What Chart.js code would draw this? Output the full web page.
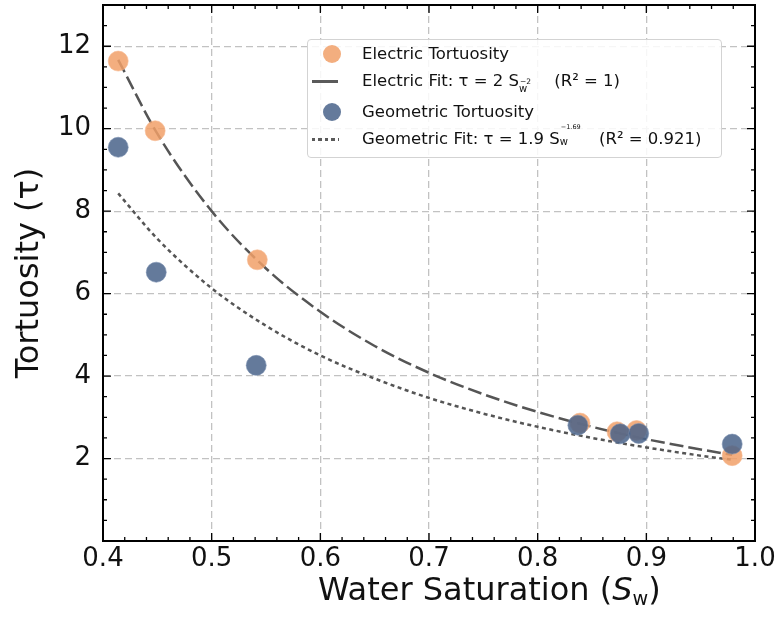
<!DOCTYPE html>
<html>
<head>
<meta charset="utf-8">
<script src="https://cdn.jsdelivr.net/npm/chart.js@4.4.1/dist/chart.umd.min.js"></script>
<style>
  body { margin: 0; background: #fff; font-family: 'DejaVu Sans', sans-serif; }
  #wrap { position: relative; width: 778px; height: 628px; }
  #legend {
    position: absolute; left: 307px; top: 39px; width: 413px; height: 117px;
    border: 1.5px solid #d3d3d3; border-radius: 4px; background: rgba(255,255,255,0.85);
    font-size: 16.5px; color: #111;
  }
  .row { position: absolute; left: 0; height: 24px; line-height: 24px; white-space: nowrap; }
  .row .lab { position: absolute; left: 54px; top: 0; }
  .dot { position: absolute; left: 15px; top: 3px; width: 18px; height: 18px; border-radius: 50%; }
  .hline { position: absolute; left: 4px; top: 10.5px; width: 26px; height: 3.5px; background: #5a5a5a; }
  .hdot { position: absolute; left: 4px; top: 10.5px; width: 27px; height: 3.5px;
    background: repeating-linear-gradient(90deg, #5a5a5a 0 3.5px, transparent 3.5px 6.5px); }
  .ss { display: inline-block; position: relative; height: 0; line-height: 1; }
  .ss span { position: absolute; left: 0; white-space: nowrap; }
  #xtitle { position: absolute; left: 318px; top: 570px; font-size: 32px; color: #111; white-space: nowrap; }
  #xtitle sub { font-size: 0.6em; vertical-align: -0.25em; }
</style>
</head>
<body>
<div id="wrap">
  <canvas id="chart" width="778" height="628"></canvas>
  <div id="legend">
    <div class="row" style="top:2px"><span class="dot" style="background:rgba(241,160,105,0.85)"></span><span class="lab">Electric Tortuosity</span></div>
    <div class="row" style="top:29px"><span class="hline"></span><span class="lab">Electric Fit: τ = 2 S<span class="ss" style="width:30px"><span style="font-size:7.5px;bottom:1px;left:1px">−2</span><span style="font-size:10px;bottom:-8px">w</span></span>&nbsp;(R² = 1)</span></div>
    <div class="row" style="top:60px"><span class="dot" style="background:rgba(73,99,138,0.85)"></span><span class="lab">Geometric Tortuosity</span></div>
    <div class="row" style="top:87px"><span class="hdot"></span><span class="lab">Geometric Fit: τ = 1.9 S<span class="ss" style="width:34px"><span style="font-size:6.5px;bottom:14px;left:1px">−1.69</span><span style="font-size:10px;bottom:-3px">w</span></span>&nbsp;(R² = 0.921)</span></div>
  </div>
  <div id="xtitle">Water Saturation (<i>S</i><sub>w</sub>)</div>
</div>
<script>
// measured points
const electricSw = [0.414, 0.448, 0.542, 0.839, 0.873, 0.891, 0.979];
const electricTau = [11.64, 9.95, 6.82, 2.86, 2.65, 2.68, 2.07];
const geometricSw = [0.414, 0.449, 0.541, 0.837, 0.876, 0.893, 0.979];
const geometricTau = [9.55, 6.52, 4.26, 2.81, 2.60, 2.61, 2.35];

// fit curves
const fitSw = [0.414, 0.45, 0.5, 0.55, 0.6, 0.65, 0.7, 0.75, 0.8, 0.85, 0.9, 0.95, 0.979];
const electricFitTau = [11.67, 9.88, 8.0, 6.61, 5.56, 4.73, 4.08, 3.56, 3.13, 2.77, 2.47, 2.22, 2.09];
const geometricFitTau = [8.43, 7.33, 6.13, 5.22, 4.50, 3.94, 3.47, 3.09, 2.77, 2.50, 2.27, 2.07, 1.97];

const xTicks = [0.4, 0.5, 0.6, 0.7, 0.8, 0.9, 1.0];
const yTicks = [2, 4, 6, 8, 10, 12];

const pts = (xs, ys) => xs.map((x, i) => ({ x, y: ys[i] }));

// no automatic label padding, the plot box is fixed by layout.padding
const noScalePadding = {
    id: 'noScalePadding',
    beforeLayout(chart) {
        Object.values(chart.scales).forEach(s => {
            s.getPadding = () => ({ left: 0, top: 0, right: 0, bottom: 0 });
        });
    },
};

// box frame + inward ticks on all four sides
const frameTicks = {
    id: 'frameTicks',
    afterDraw(chart) {
        const { ctx, chartArea: a, scales: { x, y } } = chart;
        ctx.save();
        ctx.strokeStyle = '#000';
        ctx.lineWidth = 1.3;
        const tick = (v, len, axis) => {
            ctx.beginPath();
            if (axis === 'x') {
                const p = x.getPixelForValue(v);
                ctx.moveTo(p, a.bottom); ctx.lineTo(p, a.bottom - len);
                ctx.moveTo(p, a.top); ctx.lineTo(p, a.top + len);
            } else {
                const p = y.getPixelForValue(v);
                ctx.moveTo(a.left, p); ctx.lineTo(a.left + len, p);
                ctx.moveTo(a.right, p); ctx.lineTo(a.right - len, p);
            }
            ctx.stroke();
        };
        for (let i = 0; i <= 30; i++) tick(0.4 + i * 0.02, i % 5 === 0 ? 8 : 4, 'x');
        for (let i = 0; i <= 26; i++) tick(i * 0.5, i % 4 === 0 ? 8 : 4, 'y');
        ctx.lineWidth = 2;
        ctx.strokeRect(a.left, a.top, a.right - a.left, a.bottom - a.top);
        ctx.restore();
    },
};

new Chart(document.getElementById('chart'), {
    type: 'scatter',
    data: {
        datasets: [
            {
                label: 'Geometric Tortuosity',
                data: pts(geometricSw, geometricTau),
                backgroundColor: 'rgba(73,99,138,0.85)',
                borderColor: 'rgba(120,142,175,0.6)',
                borderWidth: 1,
                pointRadius: 10,
                order: 0,
            },
            {
                label: 'Electric Tortuosity',
                data: pts(electricSw, electricTau),
                backgroundColor: 'rgba(241,160,105,0.85)',
                borderColor: 'rgba(246,185,145,0.6)',
                borderWidth: 1,
                pointRadius: 10,
                order: 1,
            },
            {
                type: 'line',
                label: 'Electric Fit',
                data: pts(fitSw, electricFitTau),
                borderColor: '#555',
                borderWidth: 2.5,
                borderDash: [14, 5],
                pointRadius: 0,
                cubicInterpolationMode: 'monotone',
                fill: false,
                order: 2,
            },
            {
                type: 'line',
                label: 'Geometric Fit',
                data: pts(fitSw, geometricFitTau),
                borderColor: '#555',
                borderWidth: 2.5,
                borderDash: [4, 3.5],
                pointRadius: 0,
                cubicInterpolationMode: 'monotone',
                fill: false,
                order: 3,
            },
        ],
    },
    options: {
        responsive: false,
        animation: false,
        devicePixelRatio: 1,
        layout: { autoPadding: false, padding: { left: 0, right: 23, top: 5, bottom: 0 } },
        plugins: { legend: { display: false }, tooltip: { enabled: false } },
        scales: {
            x: {
                type: 'linear',
                min: 0.4,
                max: 1.0,
                afterBuildTicks: (s) => { s.ticks = xTicks.map(v => ({ value: v })); },
                afterFit: (s) => { s.height = 87; },
                ticks: {
                    color: '#111',
                    font: { family: 'DejaVu Sans', size: 26 },
                    padding: 3,
                    callback: (v) => v.toFixed(1),
                },
                grid: { color: '#c2c2c2', lineWidth: 1.3, drawTicks: false },
                border: { display: false, dash: [7, 4] },
            },
            y: {
                min: 0,
                max: 13,
                afterBuildTicks: (s) => { s.ticks = yTicks.map(v => ({ value: v })); },
                afterFit: (s) => { s.width = 103; },
                ticks: {
                    color: '#111',
                    font: { family: 'DejaVu Sans', size: 26 },
                    padding: 12,
                },
                title: {
                    display: true,
                    text: 'Tortuosity (τ)',
                    color: '#111',
                    font: { family: 'DejaVu Sans', size: 32 },
                    padding: { top: 10, bottom: 0 },
                },
                grid: { color: '#c2c2c2', lineWidth: 1.3, drawTicks: false },
                border: { display: false, dash: [7, 4] },
            },
        },
    },
    plugins: [noScalePadding, frameTicks],
});
</script>
</body>
</html>
